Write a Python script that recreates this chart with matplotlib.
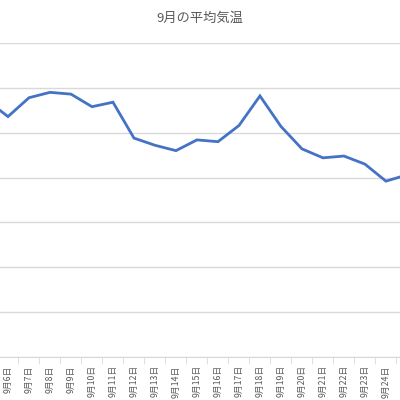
import matplotlib
matplotlib.use("Agg")
import matplotlib.pyplot as plt

plt.rcParams['font.family'] = ['Noto Sans CJK JP', 'DejaVu Sans']

days = list(range(5, 26))
labels = [f"9月{d}日" for d in days]
temps = [28.6, 26.8, 28.9, 29.5, 29.3, 27.9, 28.4, 24.4, 23.6, 23.0, 24.2,
         24.0, 25.8, 29.1, 25.7, 23.2, 22.2, 22.4, 21.5, 19.6, 20.3]

fig = plt.figure(figsize=(4, 4), dpi=100)
ax = fig.add_axes([0, 0.1075, 1, 0.785])
x = list(range(len(days)))
ax.plot(x, temps, color='#4472C4', lw=2, solid_joinstyle='miter')
ax.set_yticks(range(0, 36, 5))
ax.yaxis.grid(True, color='#d9d9d9', lw=1)
ax.set_axisbelow(True)
ax.tick_params(axis='y', length=0, labelleft=False)
ax.set_xticks(x)
ax.set_xticklabels(labels, rotation=90, fontsize=6.3, color='#595959')
ax.set_xticks([i + 0.5 for i in x], minor=True)
ax.tick_params(axis='x', which='major', length=0, pad=6)
ax.tick_params(axis='x', which='minor', length=5, color='#d9d9d9')
ax.set_xlim(0.619, 19.67)
ax.set_ylim(0, 35)
for s in ['top', 'left', 'right']:
    ax.spines[s].set_visible(False)
ax.spines['bottom'].set_color('#d9d9d9')
for t in ax.get_xticklabels():
    t.set_clip_on(False)
fig.text(0.5, 0.955, "9月の平均気温", ha='center', va='center', fontsize=9.5, color='#595959')
fig.savefig("out.png", dpi=100)
